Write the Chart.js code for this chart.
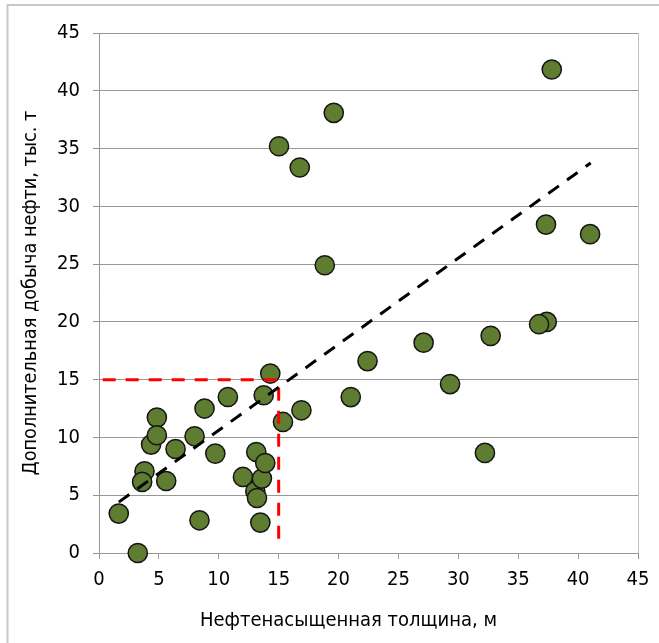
<!DOCTYPE html>
<html lang="ru">
<head>
<meta charset="utf-8">
<title>Нефтенасыщенная толщина и дополнительная добыча нефти</title>
<script src="https://cdn.jsdelivr.net/npm/chart.js@4/dist/chart.umd.min.js"></script>
<style>
  html, body { margin: 0; padding: 0; background: #ffffff; }
  canvas { display: block; }
</style>
</head>
<body>
<canvas id="chart" width="659" height="643"></canvas>
<script>
// Wells: oil-saturated thickness (m) and additional oil production (thousand t)
const thickness = [1.65, 3.24, 3.80, 3.60, 4.35, 4.83, 4.83, 5.61, 6.39, 7.98,
                   8.39, 8.81, 9.71, 10.76, 12.02, 13.05, 13.19, 13.13, 13.60, 13.88,
                   13.47, 13.75, 14.30, 15.36, 16.90, 15.03, 16.76, 19.60, 18.85, 21.02,
                   22.42, 27.10, 29.31, 32.22, 32.70, 37.38, 36.74, 37.32, 37.80, 41.00];
const extraOil  = [3.41, 0.00, 7.07, 6.15, 9.38, 11.72, 10.19, 6.23, 9.00, 10.10,
                   2.83, 12.50, 8.60, 13.50, 6.58, 5.34, 4.76, 8.74, 6.44, 7.79,
                   2.63, 13.65, 15.53, 11.34, 12.35, 35.20, 33.36, 38.09, 24.90, 13.49,
                   16.61, 18.20, 14.62, 8.66, 18.79, 20.00, 19.80, 28.42, 41.84, 27.59];

// Linear trend (end points)
const trendX = [1.65, 41.05];
const trendY = [4.40, 33.75];

// Guide lines marking 15 m / 15 thousand t
const guideX = [0.31, 15, 15];
const guideY = [15, 15, 0.52];

// Axis ticks (same for both axes)
const tickValues = [0, 5, 10, 15, 20, 25, 30, 35, 40, 45];

const xTitle = 'Нефтенасыщенная толщина, м';
const yTitle = 'Дополнительная добыча нефти, тыс. т';

const FONT = "'DejaVu Sans Condensed', 'DejaVu Sans', sans-serif";
const GRID = '#979797';

const toPoints = (xs, ys) => xs.map((x, i) => ({ x: x, y: ys[i] }));

// Light frame along the top and left edges, the right border of the plot, and the x title
const framePlugin = {
  id: 'frame',
  beforeDraw(chart) {
    const { ctx, width, height } = chart;
    ctx.save();
    ctx.strokeStyle = '#c8c8c8';
    ctx.lineWidth = 2;
    ctx.beginPath();
    ctx.moveTo(7.5, height);
    ctx.lineTo(7.5, 5);
    ctx.lineTo(width, 5);
    ctx.stroke();
    ctx.restore();
  },
  beforeDatasetsDraw(chart) {
    const { ctx, chartArea } = chart;
    const x = Math.round(chartArea.right) + 0.5;
    ctx.save();
    ctx.strokeStyle = '#c0c0c0';
    ctx.lineWidth = 1;
    ctx.beginPath();
    ctx.moveTo(x, chartArea.top);
    ctx.lineTo(x, chartArea.bottom);
    ctx.stroke();
    ctx.restore();
  },
  afterDraw(chart) {
    const { ctx, chartArea } = chart;
    ctx.save();
    ctx.font = '20px ' + FONT;
    ctx.fillStyle = '#000000';
    ctx.textAlign = 'center';
    ctx.textBaseline = 'middle';
    ctx.fillText(xTitle, (chartArea.left + chartArea.right) / 2 - 20, 621);
    ctx.restore();
  }
};

const setTicks = scale => { scale.ticks = tickValues.map(v => ({ value: v })); };

new Chart(document.getElementById('chart'), {
  type: 'scatter',
  data: {
    datasets: [
      {
        label: 'Скважины',
        data: toPoints(thickness, extraOil),
        backgroundColor: '#5f7d31',
        borderColor: '#151515',
        borderWidth: 1.5,
        pointRadius: 9.6,
        clip: false,
        order: 3
      },
      {
        label: 'Тренд',
        type: 'line',
        data: toPoints(trendX, trendY),
        borderColor: '#000000',
        borderWidth: 3,
        borderDash: [13, 10],
        borderCapStyle: 'butt',
        pointRadius: 0,
        fill: false,
        order: 1
      },
      {
        label: '15',
        type: 'line',
        data: toPoints(guideX, guideY),
        borderColor: '#ff0000',
        borderWidth: 3,
        borderDash: [13, 10],
        borderCapStyle: 'butt',
        pointRadius: 0,
        fill: false,
        order: 2
      }
    ]
  },
  options: {
    responsive: false,
    animation: false,
    events: [],
    layout: { padding: { top: 33, right: 21, left: 0, bottom: 0 } },
    plugins: {
      legend: { display: false },
      tooltip: { enabled: false },
      title: { display: false }
    },
    scales: {
      x: {
        type: 'linear',
        min: 0,
        max: 45,
        afterBuildTicks: setTicks,
        afterFit: scale => { scale.height = 90; },
        grid: { drawOnChartArea: false, drawTicks: true, tickLength: 6, color: GRID, tickColor: GRID },
        border: { display: true, color: GRID, width: 1 },
        ticks: { font: { family: FONT, size: 20 }, color: '#000000', padding: 9, maxRotation: 0 }
      },
      y: {
        type: 'linear',
        min: 0,
        max: 45,
        afterBuildTicks: setTicks,
        afterFit: scale => { scale.width = 99; },
        grid: { color: GRID, tickColor: GRID, tickLength: 6, drawTicks: true },
        border: { display: true, color: GRID, width: 1 },
        ticks: { font: { family: FONT, size: 20 }, color: '#000000', padding: 13 },
        title: {
          display: true,
          text: yTitle,
          font: { family: FONT, size: 19.7 },
          color: '#000000',
          padding: { top: 19, bottom: 0 }
        }
      }
    }
  },
  plugins: [framePlugin]
});
</script>
</body>
</html>
